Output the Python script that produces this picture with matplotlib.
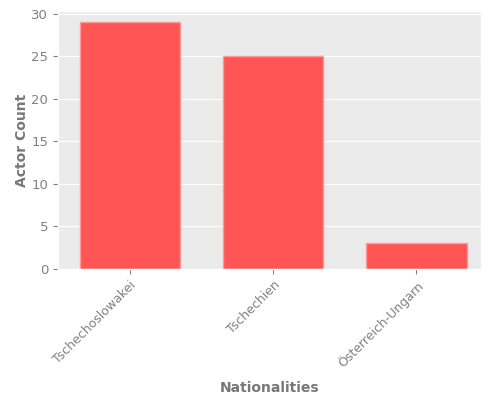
import matplotlib
matplotlib.use("Agg")
import matplotlib.pyplot as plt

plt.style.use("ggplot")

categories = ["Tschechoslowakei", "Tschechien", "Österreich-Ungarn"]
counts = [29, 25, 3]

fig = plt.figure(figsize=(5, 4), dpi=100)
ax = fig.add_axes([0.116, 0.3275, 0.846, 0.645])
ax.set_facecolor("#EBEBEB")
x = list(range(len(categories)))
ax.bar(x, counts, width=0.7, color="#FF5555", edgecolor="#FF9999", linewidth=1)
ax.set_xticks(x)
ax.set_xticklabels(categories, rotation=45, ha="right", rotation_mode="anchor", color="#808080", fontsize=9)
ax.set_yticks([0, 5, 10, 15, 20, 25, 30])
ax.tick_params(axis="y", colors="#808080", labelsize=9.5)
ax.tick_params(axis="x", colors="#808080")
ax.set_xlim(-0.5, 2.45)
ax.set_ylim(0, 30.35)
ax.set_xlabel("Nationalities", fontsize=10, fontweight="bold", color="#777777", labelpad=8)
ax.set_ylabel("Actor Count", fontsize=10, fontweight="bold", color="#777777", labelpad=1.5)
ax.grid(axis="x", visible=False)
fig.savefig("out.png", dpi=100)
